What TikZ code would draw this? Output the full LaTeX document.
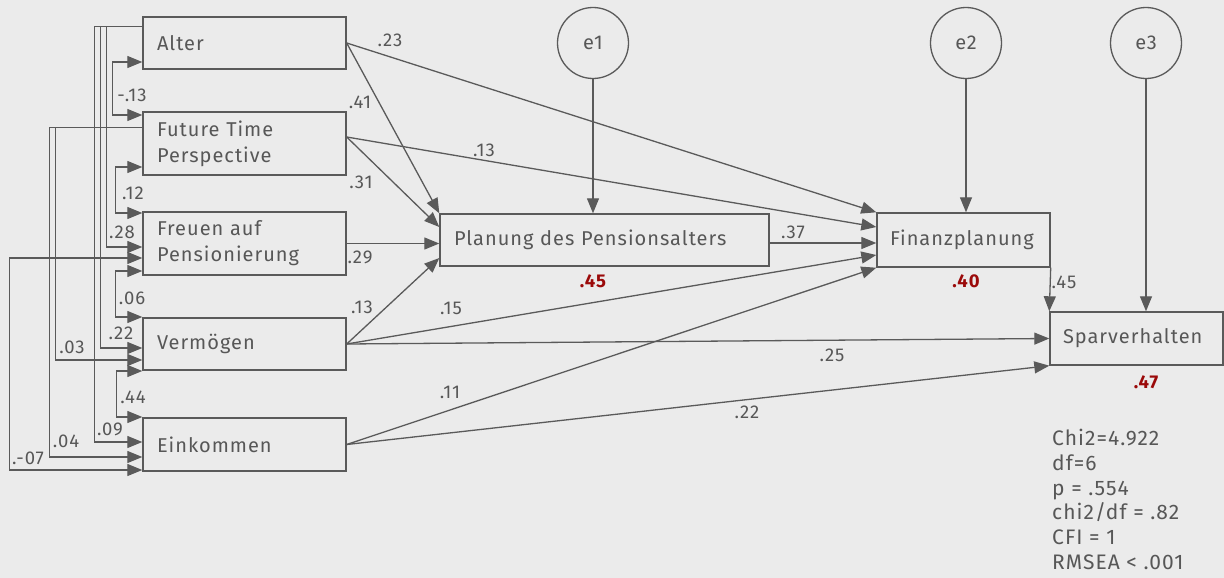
\documentclass[tikz,border=0pt]{standalone}
\usepackage{fontspec}
\setmainfont[LetterSpace=5]{Fira Sans}
\usetikzlibrary{arrows.meta,calc}
\definecolor{bg}{HTML}{EBEBEB}
\definecolor{ln}{HTML}{5A5A5A}
\definecolor{tx}{HTML}{575757}
\definecolor{rd}{HTML}{9B0A0A}
\begin{document}
\begin{tikzpicture}[x=1pt,y=-1pt,
  box/.style={draw=ln, line width=1.4pt, text=tx, align=left, inner ysep=0pt,
    font=\fontsize{20}{26}\selectfont},
  lbox/.style={box, minimum width=203, text width=175pt, inner xsep=14pt},
  circ/.style={circle, draw=ln, line width=1.3pt, minimum size=71pt, text=tx,
    font=\fontsize{20}{24}\selectfont},
  arr/.style={draw=ln, line width=1.3pt, -{Triangle[length=15pt,width=12pt]}},
  darr/.style={draw=ln, line width=1.3pt, {Triangle[length=15pt,width=12pt]}-{Triangle[length=15pt,width=12pt]}},
  lab/.style={text=tx, inner sep=0pt, font=\fontsize{18.5}{22}\selectfont},
  rsq/.style={text=rd, inner sep=0pt, font=\fontsize{18.5}{22}\selectfont\bfseries},
]
\fill[bg] (0,0) rectangle (1224,578);
\useasboundingbox (0,0) rectangle (1224,578);

% boxes
\node[lbox, minimum height=52] (alter) at (244.5,43) {Alter};
\node[lbox, minimum height=63] (ftp) at (244.5,143.5) {Future Time\\Perspective};
\node[lbox, minimum height=63] (freuen) at (244.5,243.5) {Freuen auf\\Pensionierung};
\node[lbox, minimum height=52] (verm) at (244.5,344) {Vermögen};
\node[lbox, minimum height=53] (eink) at (244.5,444.5) {Einkommen};
\node[box, minimum width=329, minimum height=52, text width=301pt, inner xsep=14pt] (planung) at (604.5,240) {Planung des Pensionsalters};
\node[box, minimum width=173, minimum height=54, text width=147pt, inner xsep=13pt] (finanz) at (963.5,240) {Finanzplanung};
\node[box, minimum width=173, minimum height=53, text width=147pt, inner xsep=13pt] (spar) at (1136.5,338.5) {Sparverhalten};

\node[circ] (e1) at (593,43) {e1};
\node[circ] (e2) at (966,43) {e2};
\node[circ] (e3) at (1146,43) {e3};

% paths
\coordinate (ftpo) at ($(ftp.east)+(0,-6.5)$);
\draw[arr] (alter.east) -- (planung.north west);
\draw[arr] (alter.east) -- (finanz.north west);
\draw[arr] (ftpo) -- ($(planung.west)+(0,-13)$);
\draw[arr] (ftpo) -- ($(finanz.west)+(0,-13)$);
\draw[arr] (freuen.east) -- (freuen.east -| planung.west);
\draw[arr] ($(planung.east)+(0,3)$) -- ($(finanz.west)+(0,3)$);
\draw[arr] (verm.east) -- ($(planung.west)+(0,18)$);
\draw[arr] (verm.east) -- ($(finanz.west)+(0,15)$);
\draw[arr] (verm.east) -- (spar.west);
\draw[arr] (eink.east) -- (finanz.south west);
\draw[arr] (eink.east) -- (spar.south west);
\draw[arr] (finanz.south east) -- (spar.north west);
\draw[arr] (e1.south) -- (e1.south |- planung.north);
\draw[arr] (e2.south) -- (e2.south |- finanz.north);
\draw[arr] (e3.south) -- (e3.south |- spar.north);

% correlations
\draw[arr] ($(alter.north west)+(0,10)$) -- ++(-36,0) |- ($(freuen.west)+(0,3.5)$);
\draw[arr] ($(alter.north west)+(0,10)$) -- ++(-42,0) |- ($(verm.west)+(0,4)$);
\draw[arr] ($(alter.north west)+(0,10)$) -- ++(-48,0) |- ($(eink.west)+(0,-2.5)$);
\draw[arr] ($(ftp.north west)+(0,16)$) -- ++(-87,0) |- ($(verm.west)+(0,16)$);
\draw[arr] ($(ftp.north west)+(0,16)$) -- ++(-93,0) |- ($(eink.west)+(0,12.5)$);
\draw[darr] ($(freuen.west)+(0,14.5)$) -- ++(-133,0) |- ($(eink.west)+(0,25.5)$);
\draw[darr] ($(alter.west)+(0,19)$) -- ++(-30,0) |- ($(ftp.west)+(0,-28.5)$);
\draw[darr] ($(ftp.west)+(0,23.5)$) -- ++(-27,0) |- ($(freuen.west)+(0,-30.5)$);
\draw[darr] ($(freuen.west)+(0,27.5)$) -- ++(-27,0) |- ($(verm.west)+(0,-27)$);
\draw[darr] ($(verm.west)+(0,27)$) -- ++(-26,0) |- ($(eink.west)+(0,-27.5)$);

% labels
\node[lab] (l1) at (390,40) {.23};
\node[lab] (l2) at (360,102) {.41};
\node[lab] (l3) at (361,182) {.31};
\node[lab] (l4) at (484,150) {.13};
\node[lab] (l5) at (360,257) {.29};
\node[lab] (l6) at (362,307) {.13};
\node[lab] (l7) at (451,308) {.15};
\node[lab] (l8) at (832,355) {.25};
\node[lab] (l9) at (450,392) {.11};
\node[lab] (l10) at (747,412) {.22};
\node[lab] (l11) at (793,232) {.37};
\node[lab] (l12) at (1064,282) {.45};
\node[lab] (c1) at (132,95) {-.13};
\node[lab] (c2) at (133,193) {.12};
\node[lab] (c3) at (132,298) {.06};
\node[lab] (c4) at (133,397) {.44};
\node[lab] (c5) at (122,232) {.28};
\node[lab] (c6) at (121,333) {.22};
\node[lab] (c7) at (110,429) {.09};
\node[lab] (c8) at (72,347) {.03};
\node[lab] (c9) at (66,441) {.04};
\node[lab] (c10) at (28,458) {.-07};

\node[rsq] (r1) at (593,281) {.45};
\node[rsq] (r2) at (966,281) {.40};
\node[rsq] (r3) at (1146,382) {.47};

\node[lab, anchor=north west, align=left, font=\fontsize{21}{24.8}\selectfont] (stats) at (1052,429)
  {Chi2=4.922\\df=6\\p = .554\\chi2/df = .82\\CFI = 1\\RMSEA < .001};
\end{tikzpicture}
\end{document}
